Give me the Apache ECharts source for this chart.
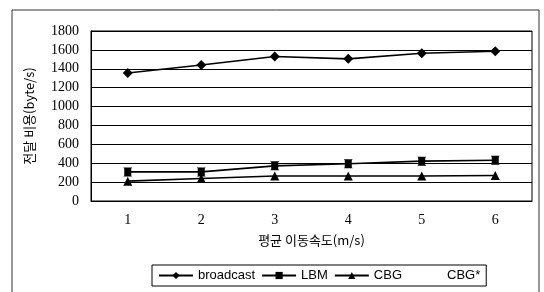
<!DOCTYPE html>
<html>
<head>
<meta charset="utf-8">
<script src="https://cdn.jsdelivr.net/npm/echarts@6/dist/echarts.min.js"></script>
<style>
  html, body { margin: 0; padding: 0; background: #fff; }
  #main { width: 544px; height: 292px; }
</style>
</head>
<body>
<div id="main"></div>
<script>
// 평균 이동속도 (m/s)
var speeds = ['1', '2', '3', '4', '5', '6'];
// 전달 비용 (byte/s)
var broadcast = [1355, 1440, 1530, 1505, 1565, 1585];
var lbm = [308, 308, 372, 395, 422, 432];
var cbg = [210, 238, 265, 265, 265, 270];
var cbgStar = [308, 308, 372, 395, 422, 432];
var yTicks = { min: 0, max: 1800, step: 200 };

var serif = '"Liberation Serif", "DejaVu Serif", serif';
var kor = '"Noto Sans CJK KR", sans-serif';

var myChart = echarts.init(document.getElementById('main'));
myChart.setOption({
    animation: false,
    backgroundColor: '#fff',
    graphic: [{
        type: 'rect',
        shape: { x: 12, y: 10, width: 527, height: 300 },
        style: { fill: 'none', stroke: '#333', lineWidth: 1 },
        silent: true
    }],
    grid: {
        left: 91, right: 12, top: 31, bottom: 91,
        show: true,
        borderColor: '#000',
        borderWidth: 1
    },
    legend: {
        left: 152,
        top: 265,
        padding: [4, 6],
        itemGap: 6,
        itemWidth: 34,
        itemHeight: 9,
        borderColor: '#000',
        borderWidth: 1,
        textStyle: { fontFamily: '"Liberation Sans", Arial, sans-serif', fontSize: 13, color: '#000' },
        data: [
            { name: 'broadcast' },
            { name: 'LBM' },
            { name: 'CBG' },
            { name: 'CBG*', icon: 'none' }
        ]
    },
    xAxis: {
        type: 'category',
        data: speeds,
        boundaryGap: true,
        name: '평균 이동속도(m/s)',
        nameLocation: 'middle',
        nameGap: 33,
        nameTextStyle: { fontFamily: kor, fontSize: 13, color: '#000' },
        axisLine: { lineStyle: { color: '#000', width: 1 } },
        axisTick: { inside: true, length: 3, lineStyle: { color: '#000' } },
        axisLabel: { margin: 12, fontFamily: serif, fontSize: 14, color: '#000' }
    },
    yAxis: {
        type: 'value',
        min: yTicks.min,
        max: yTicks.max,
        interval: yTicks.step,
        name: '전달 비용(byte/s)',
        nameLocation: 'middle',
        nameGap: 55,
        nameTextStyle: { fontFamily: kor, fontSize: 13, color: '#000' },
        axisLine: { show: true, lineStyle: { color: '#000', width: 1 } },
        axisTick: { show: false },
        axisLabel: {
            margin: 12, fontFamily: serif, fontSize: 14, color: '#000',
            formatter: function (v) { return String(v); }
        },
        splitLine: { lineStyle: { color: '#000', width: 1 } }
    },
    series: [
        {
            name: 'broadcast', type: 'line', data: broadcast,
            symbol: 'diamond', symbolSize: 10,
            itemStyle: { color: '#000' },
            lineStyle: { color: '#000', width: 1.6 }
        },
        {
            name: 'LBM', type: 'line', data: lbm,
            symbol: 'rect', symbolSize: 7,
            itemStyle: { color: '#000' },
            lineStyle: { color: '#000', width: 1.6 }
        },
        {
            name: 'CBG', type: 'line', data: cbg,
            symbol: 'triangle', symbolSize: 9,
            itemStyle: { color: '#000' },
            lineStyle: { color: '#000', width: 1.6 }
        },
        {
            name: 'CBG*', type: 'line', data: cbgStar,
            symbol: 'path://M0,0L10,0L0,10L10,10Z', symbolSize: 9,
            itemStyle: { color: '#000' },
            lineStyle: { opacity: 0 }
        }
    ]
});
</script>
</body>
</html>
